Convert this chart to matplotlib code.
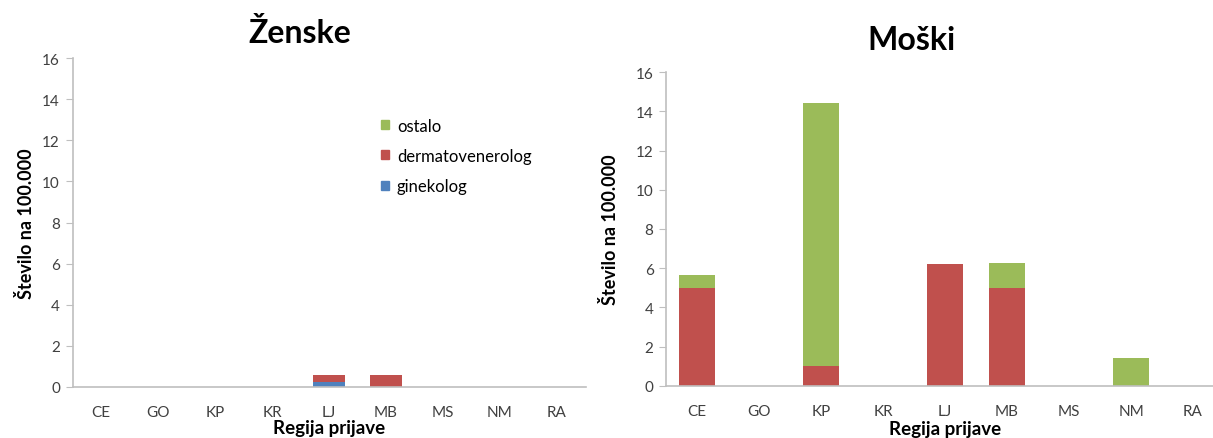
import matplotlib
matplotlib.use("Agg")
import matplotlib.pyplot as plt
import numpy as np
from matplotlib.patches import Patch

plt.rcParams['font.family'] = ['Lato', 'DejaVu Sans']

regions = ["CE", "GO", "KP", "KR", "LJ", "MB", "MS", "NM", "RA"]

# Ženske (women)
f_ginekolog = [0, 0, 0, 0, 0.24, 0, 0, 0, 0]
f_dermato = [0, 0, 0, 0, 0.33, 0.57, 0, 0, 0]
f_ostalo = [0, 0, 0, 0, 0, 0, 0, 0, 0]

# Moški (men)
m_dermato = [5.0, 0, 1.0, 0, 6.2, 5.0, 0, 0, 0]
m_ostalo = [0.67, 0, 13.45, 0, 0, 1.25, 0, 1.4, 0]

yticks = [0, 2, 4, 6, 8, 10, 12, 14, 16]

GREEN = "#9BBB59"
RED = "#C0504D"
BLUE = "#4F81BD"
AXIS = "#BFBFBF"
TXT = "#404040"

W, H = 1213, 439
fig = plt.figure(figsize=(W / 100, H / 100), dpi=100)


def px_axes(x0, x1, ytop, ybot):
    return fig.add_axes([x0 / W, (H - ybot) / H, (x1 - x0) / W, (ybot - ytop) / H])


def style(ax, ylab_x, xlab_y):
    x = np.arange(len(regions))
    ax.set_xlim(-0.5, len(regions) - 0.5)
    ax.set_ylim(0, 16)
    ax.set_yticks(yticks)
    ax.set_xticks(x)
    ax.set_xticklabels(regions)
    for s in ["top", "right"]:
        ax.spines[s].set_visible(False)
    for s in ["left", "bottom"]:
        ax.spines[s].set_color(AXIS)
        ax.spines[s].set_linewidth(1.2)
    ax.tick_params(axis="y", length=5, color=AXIS, labelsize=11, labelcolor=TXT, pad=4)
    ax.tick_params(axis="x", length=0, labelsize=11, labelcolor=TXT, pad=13)
    ax.set_xlabel("Regija prijave", fontsize=13.5, fontweight="bold", va="center")
    ax.set_ylabel("Število na 100.000", fontsize=13, fontweight="bold", va="center")
    ax.xaxis.set_label_coords(0.5, xlab_y)
    ax.yaxis.set_label_coords(ylab_x, 0.5)
    return x


# Left panel: women
ax1 = px_axes(72.5, 585.5, 59.3, 387.7)
x = style(ax1, (26 - 72.5) / 513, (387.7 - 429) / 328.4)
bw = 0.57
b = np.zeros(len(regions))
ax1.bar(x, f_ginekolog, bw, bottom=b, color=BLUE, zorder=2)
b += np.array(f_ginekolog)
ax1.bar(x, f_dermato, bw, bottom=b, color=RED, zorder=2)
b += np.array(f_dermato)
ax1.bar(x, f_ostalo, bw, bottom=b, color=GREEN, zorder=2)

handles = [Patch(color=GREEN, label="ostalo"),
           Patch(color=RED, label="dermatovenerolog"),
           Patch(color=BLUE, label="ginekolog")]
ax1.legend(handles=handles, loc="upper left",
           bbox_to_anchor=((366 - 72.5) / 513, (388 - 104) / 328.4),
           frameon=False, fontsize=12, handlelength=0.45, handleheight=0.45,
           handletextpad=0.5, labelspacing=0.85, labelcolor="black")

fig.text(300 / W, 1 - 33 / H, "Ženske", ha="center", va="center",
         fontsize=23, fontweight="bold")

# Right panel: men
ax2 = px_axes(666, 1224, 73.3, 386.7)
x = style(ax2, (610 - 666) / 558, (386.7 - 430) / 313.4)
bw2 = 36 / 62
b = np.zeros(len(regions))
ax2.bar(x, m_dermato, bw2, bottom=b, color=RED, zorder=2)
b += np.array(m_dermato)
ax2.bar(x, m_ostalo, bw2, bottom=b, color=GREEN, zorder=2)

fig.text(911 / W, 1 - 40 / H, "Moški", ha="center", va="center",
         fontsize=23, fontweight="bold")

fig.savefig("out.png", dpi=100)
